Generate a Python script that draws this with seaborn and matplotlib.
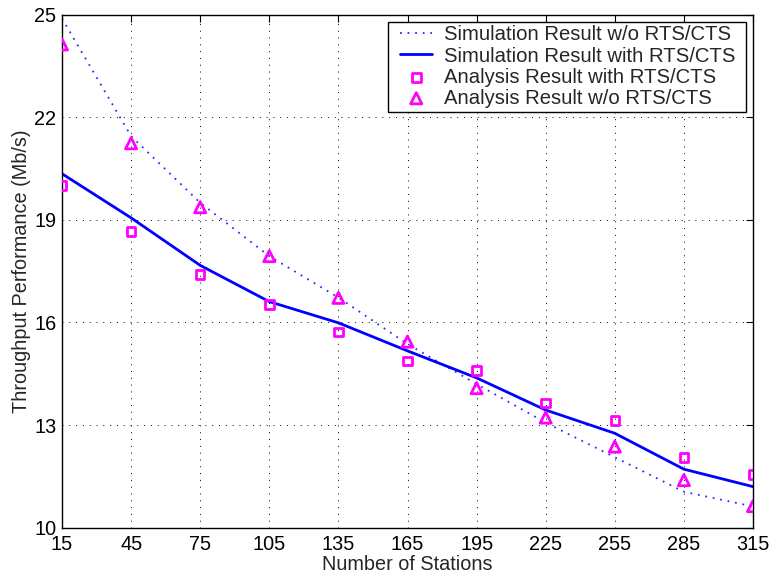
import matplotlib
matplotlib.use("Agg")
import matplotlib.pyplot as plt
from matplotlib.patches import Rectangle
from matplotlib.transforms import IdentityTransform
import seaborn as sns
import pandas as pd

# Number of stations and throughput (Mb/s)
stations = [15, 45, 75, 105, 135, 165, 195, 225, 255, 285, 315]
sim_without_rts = [24.89, 21.45, 19.50, 17.94, 16.73, 15.37, 14.20, 13.07, 12.06, 11.05, 10.62]
sim_with_rts = [20.35, 19.06, 17.67, 16.61, 15.99, 15.17, 14.38, 13.44, 12.76, 11.71, 11.20]
ana_with_rts = [20.00, 18.66, 17.41, 16.53, 15.72, 14.88, 14.59, 13.64, 13.13, 12.06, 11.56]
ana_without_rts = [24.13, 21.24, 19.37, 17.94, 16.72, 15.44, 14.08, 13.22, 12.37, 11.39, 10.63]

x_ticks = [15, 45, 75, 105, 135, 165, 195, 225, 255, 285, 315]
y_ticks = [10, 13, 16, 19, 22, 25]

df = pd.DataFrame({
    "stations": stations,
    "sim_wo": sim_without_rts,
    "sim_w": sim_with_rts,
    "ana_w": ana_with_rts,
    "ana_wo": ana_without_rts,
})

sns.set_style("white")
plt.rcParams["font.family"] = ["Liberation Sans", "DejaVu Sans"]
plt.rcParams["font.size"] = 14.3

W, H = 772, 577
fig = plt.figure(figsize=(W / 100, H / 100), dpi=100)
ax = fig.add_axes([0.0803, 0.0855, 0.8951, 0.889])

sns.lineplot(data=df, x="stations", y="sim_wo", ax=ax, color="#2a2aff",
             linestyle=(0, (1, 3.2)), linewidth=1.3,
             label="Simulation Result w/o RTS/CTS")
sns.lineplot(data=df, x="stations", y="sim_w", ax=ax, color="#0000ff",
             linewidth=2.0, label="Simulation Result with RTS/CTS")
sns.scatterplot(data=df, x="stations", y="ana_w", ax=ax, marker="s", s=38,
                facecolors="none", edgecolor="#ff00ff", linewidth=2.0,
                label="Analysis Result with RTS/CTS", zorder=4)
sns.scatterplot(data=df, x="stations", y="ana_wo", ax=ax, marker="^", s=64,
                facecolors="none", edgecolor="#ff00ff", linewidth=2.0,
                label="Analysis Result w/o RTS/CTS", zorder=4)

ax.set_xlim(15, 315)
ax.set_ylim(10, 25)
ax.set_xticks(x_ticks)
ax.set_yticks(y_ticks)
ax.tick_params(direction="in", length=5, width=0.8, top=True, right=True,
               labelsize=14.3, colors="black")
ax.tick_params(axis="x", pad=5)
ax.tick_params(axis="y", pad=4)

ax.grid(True, color="black", linestyle=(0, (1, 6)), linewidth=0.7)
for sp in ax.spines.values():
    sp.set_color("black")
    sp.set_linewidth(1.0)

ax.set_xlabel("Number of Stations", fontsize=14.3, labelpad=1)
ax.set_ylabel("Throughput Performance (Mb/s)", fontsize=14.3, labelpad=2)

# Legend content without its own frame; a box with wider side margins is drawn around it
leg = ax.legend(loc="upper right", bbox_to_anchor=(735 / W, 1 - 25.5 / H),
                bbox_transform=fig.transFigure, fontsize=14.6, frameon=False,
                handlelength=1.6, labelspacing=0.1, borderpad=0,
                handletextpad=0.55, borderaxespad=0)
leg.set_zorder(6)
fig.canvas.draw()
bb = leg.get_window_extent()
box = Rectangle((bb.x0 - 12, bb.y0 - 4), bb.width + 23, bb.height + 7.5,
                transform=IdentityTransform(), facecolor="white",
                edgecolor="black", linewidth=1.0, zorder=5)
ax.add_artist(box)

fig.savefig("out.png", dpi=100)
